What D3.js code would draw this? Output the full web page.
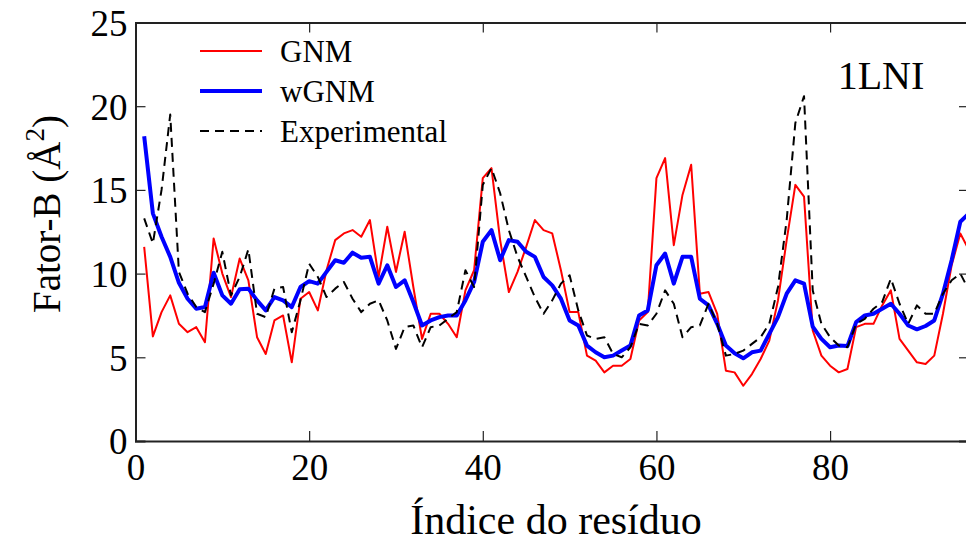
<!DOCTYPE html>
<html><head><meta charset="utf-8">
<script src="https://cdn.jsdelivr.net/npm/d3@7"></script>
<style>
html,body{margin:0;padding:0;background:#fff;}
svg{display:block;}
text{font-family:"Liberation Serif","Times New Roman",serif;fill:#000;}
</style></head>
<body><svg id="chart" width="966" height="545"></svg>
<script>
const residues = d3.range(1, 97);
const gnm = [11.6,6.25,7.7,8.7,7.0,6.5,6.8,5.9,12.1,10.0,8.6,10.9,9.6,6.2,5.2,7.2,7.5,4.7,8.5,8.9,
  7.8,10.2,12.0,12.4,12.6,12.2,13.2,9.8,12.8,10.1,12.5,9.2,6.1,7.6,7.6,7.0,6.2,9.0,10.2,15.7,
  16.3,12.0,8.9,10.1,11.6,13.2,12.6,12.4,10.2,7.7,7.7,5.1,4.8,4.1,4.5,4.5,4.9,7.2,7.7,15.7,
  16.9,11.7,14.7,16.5,8.8,8.9,7.6,4.2,4.1,3.3,4.0,4.9,6.0,8.4,12.0,15.3,14.6,6.6,5.1,4.5,
  4.1,4.3,6.8,7.0,7.0,8.1,9.0,6.1,5.4,4.7,4.6,5.1,7.6,10.5,12.4,11.4];
const wgnm = [18.2,13.6,12.2,11.0,9.45,8.5,7.9,8.0,10.05,8.7,8.2,9.06,9.1,8.4,7.8,8.6,8.4,8.0,9.2,9.55,
  9.4,10.1,10.8,10.65,11.25,10.95,11.0,9.4,10.5,9.2,9.6,8.3,6.9,7.2,7.4,7.5,7.5,8.4,9.5,11.9,
  12.6,10.8,12.0,11.9,11.3,11.0,9.8,9.3,8.5,7.2,6.9,5.7,5.3,5.0,5.1,5.4,5.7,7.5,7.8,10.5,
  11.2,9.4,11.0,11.0,8.5,8.1,7.0,5.7,5.24,4.94,5.3,5.4,6.4,7.4,8.8,9.6,9.4,6.83,6.1,5.6,
  5.7,5.67,7.1,7.5,7.6,7.9,8.2,7.6,6.9,6.67,6.87,7.2,8.8,10.8,13.1,13.6];
const experimental = [13.3,11.8,15.0,19.5,10.1,8.8,8.0,7.7,9.4,11.3,8.7,9.8,11.45,7.6,7.4,9.1,9.2,6.5,8.4,10.6,
  9.8,8.6,9.1,9.5,8.5,7.7,8.2,8.4,7.2,5.5,6.8,6.9,5.6,6.8,6.9,7.3,7.7,10.2,9.2,15.3,
  16.3,14.8,12.6,11.0,9.8,8.6,7.6,8.4,9.4,9.9,7.8,6.3,6.1,6.2,5.2,5.0,5.6,7.0,6.9,7.6,
  9.0,8.2,6.2,6.8,6.9,8.2,7.0,5.1,5.2,5.4,5.8,6.2,7.0,9.2,13.2,19.0,20.6,9.0,7.0,6.2,
  5.7,5.6,7.0,7.3,7.9,8.3,9.7,8.2,7.0,8.1,7.6,7.6,8.8,9.6,10.0,9.0];
const xTicks = [0,20,40,60,80];
const yTicks = [0,5,10,15,20,25];
const seriesNames = ["GNM","wGNM","Experimental"];
const seriesColors = ["#ff0000","#0000ff","#000000"];

const L = 135.5, R = 969, T = 22.5, B = 441;
const svg = d3.select("#chart");
const x = d3.scaleLinear().domain([0,96]).range([L,R]);
const y = d3.scaleLinear().domain([0,25]).range([B,T]);

const series = [
  {name:seriesNames[0], vals:gnm, color:seriesColors[0], w:2, dash:null},
  {name:seriesNames[1], vals:wgnm, color:seriesColors[1], w:4, dash:null},
  {name:seriesNames[2], vals:experimental, color:seriesColors[2], w:2, dash:"9,6"}
];
const line = d3.line().x((d,i)=>x(residues[i])).y(d=>y(d));
series.forEach(s=>{
  svg.append("path").datum(s.vals).attr("d", line)
    .attr("fill","none").attr("stroke", s.color).attr("stroke-width", s.w)
    .attr("stroke-linejoin","round")
    .attr("stroke-dasharray", s.dash);
});

// axes (ticks inward, mirrored)
const fs = 37;
const ax = svg.append("g").attr("transform",`translate(0,${B})`)
  .call(d3.axisBottom(x).tickValues(xTicks).tickSize(-10).tickPadding(13).tickFormat(d3.format("d")));
const ay = svg.append("g").attr("transform",`translate(${L},0)`)
  .call(d3.axisLeft(y).tickValues(yTicks).tickSize(-10).tickPadding(8).tickFormat(d3.format("d")));
const at = svg.append("g").attr("transform",`translate(0,${T})`)
  .call(d3.axisTop(x).tickValues(xTicks).tickSize(-10).tickFormat(""));
const ar = svg.append("g").attr("transform",`translate(${R},0)`)
  .call(d3.axisRight(y).tickValues(yTicks).tickSize(-10).tickFormat(""));
[ax,ay,at,ar].forEach(g=>{
  g.selectAll("path.domain").attr("stroke","#222").attr("stroke-width",2);
  g.selectAll(".tick line").attr("stroke","#222").attr("stroke-width",1.2);
  g.selectAll(".tick text").attr("font-family","Liberation Serif").attr("font-size",fs).attr("fill","#000");
});
ay.selectAll(".tick line").filter(d=>d===0||d===25).remove();
ar.selectAll(".tick line").filter(d=>d===0||d===25).remove();
ax.selectAll(".tick line").filter(d=>d===0).remove();
at.selectAll(".tick line").filter(d=>d===0).remove();
ax.selectAll(".tick text").attr("dy","0.71em");
ay.selectAll(".tick text").attr("dy","0.35em");

// axis titles
svg.append("text").attr("x", 556).attr("y", 534).attr("text-anchor","middle")
  .attr("font-size", 42).text("Índice do resíduo");
const yt = svg.append("text").attr("transform","translate(60,214) rotate(-90)")
  .attr("text-anchor","middle").attr("font-size", 39);
yt.append("tspan").text("Fator-B (Å");
yt.append("tspan").attr("dy",-16).attr("font-size",27).text("2");
yt.append("tspan").attr("dy",16).text(")");

// title
svg.append("text").attr("x", 881).attr("y", 89).attr("text-anchor","middle")
  .attr("font-size", 40).text("1LNI");

// legend
const legY = [51, 91, 131];
series.forEach((s,i)=>{
  svg.append("line").attr("x1",200).attr("x2",262).attr("y1",legY[i]).attr("y2",legY[i])
    .attr("stroke", s.color).attr("stroke-width", s.w).attr("stroke-dasharray", s.dash);
  svg.append("text").attr("x",280).attr("y",legY[i]+11).attr("font-size",31).text(s.name);
});
</script></body></html>
